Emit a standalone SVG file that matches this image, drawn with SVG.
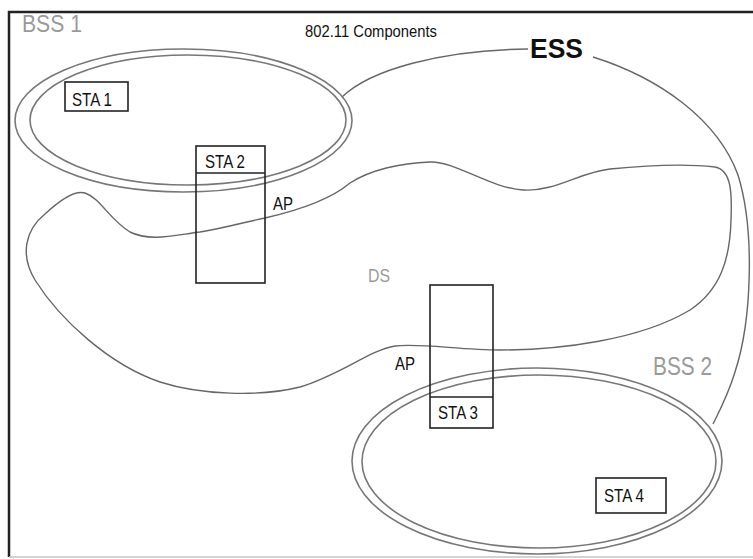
<svg xmlns="http://www.w3.org/2000/svg" width="753" height="559" viewBox="0 0 753 559">
<style>
.frame{fill:none;stroke:#222;stroke-width:2.5}
.ring{fill:none;stroke:#777;stroke-width:1.6}
.line{fill:none;stroke:#666;stroke-width:1.4}
.box{fill:none;stroke:#222;stroke-width:1.6}
.t{font-family:"Liberation Sans",Arial,sans-serif;fill:#111}
.g{font-family:"Liberation Sans",Arial,sans-serif;fill:#9a9a9a}
</style>
<rect width="753" height="559" fill="#fff"/>
<g id="frame">
<path class="frame" d="M9,557 V12 H753"/>
<path d="M9,557 H753" fill="none" stroke="#c4c4c4" stroke-width="1.5"/>
</g>
<text class="t" x="305" y="37" font-size="16" textLength="132" lengthAdjust="spacingAndGlyphs">802.11 Components</text>
<g id="connectors">
<path id="ess-line" class="line" d="M342,97 C370,70 440,50 528,49 M593,57 C660,78 718,120 738,175 C755,230 752,320 735,372 C728,395 720,410 713,424"/>
</g>
<g id="ess">
<text class="t" x="530" y="58" font-size="28" font-weight="bold" textLength="53" lengthAdjust="spacingAndGlyphs">ESS</text>
</g>
<g id="ds">
<path class="line" d="M265,218 C300,210 330,200 350,183 C370,170 400,163 430,162 C455,161 490,188 523,190 C555,192 580,172 610,169 C650,165 690,164 715,167 C732,170 732,195 731,220 C730,260 720,290 690,310 C640,340 560,350 500,350 C460,350 420,343 395,346 C370,350 340,375 300,387 C260,397 200,395 160,382 C110,365 60,320 35,280 C20,255 25,230 45,214 C60,200 75,190 85,193 C100,198 110,220 130,232 C150,242 175,235 200,232 C225,228 245,222 265,218 Z"/>
<text class="g" x="368" y="282" font-size="19" textLength="22" lengthAdjust="spacingAndGlyphs">DS</text>
</g>
<g id="bss1">
<ellipse class="ring" cx="183.5" cy="120.5" rx="168.5" ry="71.5"/>
<ellipse class="ring" cx="188" cy="120" rx="158" ry="65"/>
<text class="g" x="22" y="32" font-size="23" textLength="60" lengthAdjust="spacingAndGlyphs">BSS 1</text>
</g>
<g id="bss2">
<ellipse class="ring" cx="537" cy="461" rx="185" ry="93"/>
<ellipse class="ring" cx="539" cy="461.5" rx="177" ry="86.5"/>
<text class="g" x="653" y="375" font-size="25" textLength="59" lengthAdjust="spacingAndGlyphs">BSS 2</text>
</g>
<g id="sta1">
<rect class="box" x="65" y="82" width="63" height="29"/>
<text class="t" x="72" y="106" font-size="18" textLength="40" lengthAdjust="spacingAndGlyphs">STA 1</text>
</g>
<g id="sta2">
<rect class="box" x="196" y="146" width="69" height="137"/>
<line class="box" x1="196" y1="173" x2="265" y2="173"/>
<text class="t" x="205" y="168" font-size="18" textLength="40" lengthAdjust="spacingAndGlyphs">STA 2</text>
</g>
<g id="ap1">
<text class="t" x="273" y="210" font-size="18" textLength="20" lengthAdjust="spacingAndGlyphs">AP</text>
</g>
<g id="sta3">
<rect class="box" x="430" y="285" width="63" height="143"/>
<line class="box" x1="430" y1="397" x2="493" y2="397"/>
<text class="t" x="438" y="419" font-size="18" textLength="40" lengthAdjust="spacingAndGlyphs">STA 3</text>
</g>
<g id="ap2">
<text class="t" x="395" y="370" font-size="18" textLength="20" lengthAdjust="spacingAndGlyphs">AP</text>
</g>
<g id="sta4">
<rect class="box" x="596" y="478" width="70" height="35"/>
<text class="t" x="604" y="502" font-size="18" textLength="40" lengthAdjust="spacingAndGlyphs">STA 4</text>
</g>
</svg>
